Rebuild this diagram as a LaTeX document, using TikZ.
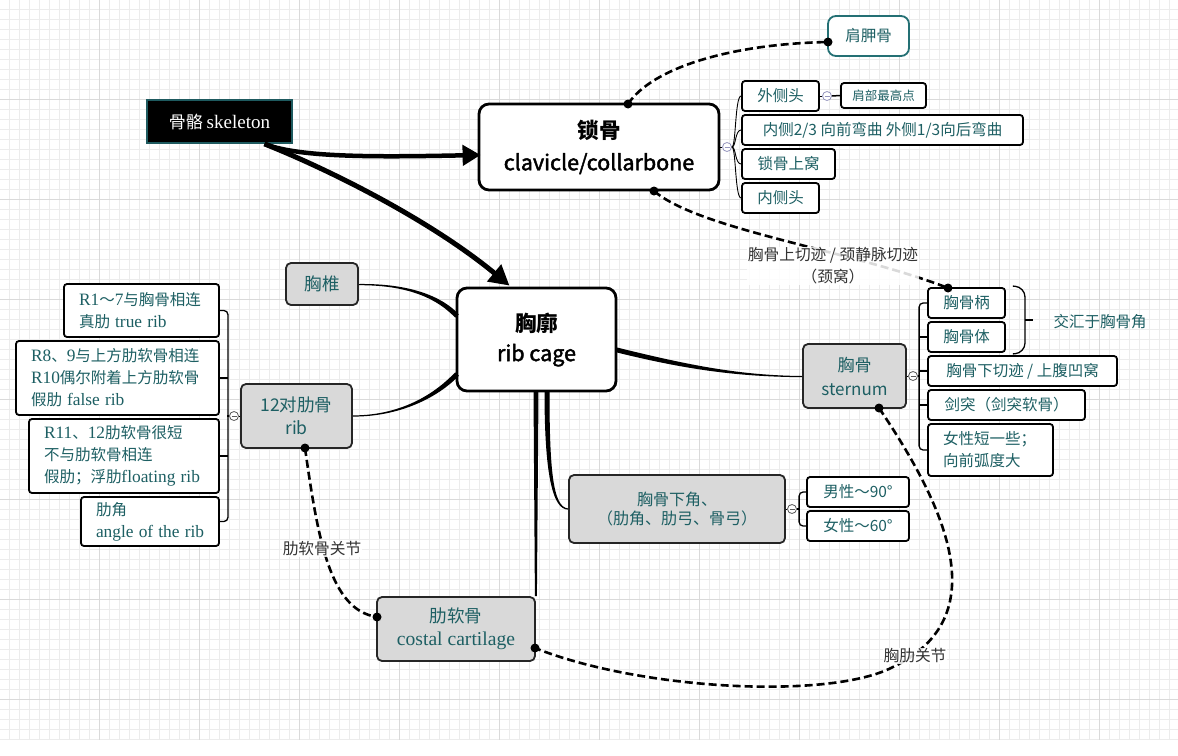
\documentclass[tikz,border=0pt]{standalone}
\usepackage{fontspec}
\setmainfont{Noto Sans CJK SC}
\newfontfamily\srf{Liberation Serif}[Scale=1.12]
\newfontfamily\medf{Noto Sans CJK SC}[FakeBold=2]
\usetikzlibrary{arrows.meta,calc}
\definecolor{teal1}{RGB}{29,95,99}
\definecolor{grayf}{RGB}{217,217,217}
\definecolor{gmin}{RGB}{236,236,236}
\definecolor{gmaj}{RGB}{218,218,218}
\definecolor{skb}{RGB}{30,90,95}
\definecolor{scapc}{RGB}{36,112,116}
\definecolor{togc}{RGB}{150,150,190}
\tikzset{
 mainbox/.style={draw=black, line width=2.8pt, rounded corners=10pt, fill=white, inner sep=0pt, align=center, font=\fontsize{21.5}{32}\selectfont},
 skelbox/.style={draw=skb, fill=black, line width=1.8pt, text=white, inner sep=0pt, font=\fontsize{17}{20}\selectfont},
 graybox/.style={draw=black!85, line width=1.8pt, rounded corners=5pt, fill=grayf, text=teal1, inner sep=0pt, align=center, font=\fontsize{17.5}{23}\selectfont},
 leaf/.style={draw=black, line width=1.8pt, rounded corners=3pt, fill=white, text=teal1, inner sep=0pt, font=\fontsize{15.5}{22}\selectfont},
 lleaf/.style={leaf, align=left, inner xsep=15pt},
 dotc/.style={circle, fill=black, inner sep=0pt, minimum size=9pt},
 dashc/.style={line width=2.6pt, dash pattern=on 8pt off 4pt},
 tog/.style={circle, draw=black!65, fill=white, line width=0.8pt, inner sep=0pt, minimum size=9pt},
 brk/.style={line width=1.3pt, rounded corners=4pt},
 thinl/.style={line width=0.9pt},
 lab/.style={fill=white, fill opacity=0.85, text opacity=1, font=\fontsize{15.7}{22}\selectfont, text=black!80, inner sep=1pt, align=center},
 bigarrow/.style={line width=4.5pt, -{Triangle[length=18pt,width=20pt]}},
}
\begin{document}
\begin{tikzpicture}[x=1pt,y=-1pt]
\useasboundingbox (0,0) rectangle (1178,755);
\fill[white] (0,0) rectangle (1178,755);
\foreach \i in {1,...,117} \draw[gmin,line width=0.8pt] (\i*10-0.5,0) -- (\i*10-0.5,740);
\foreach \j in {1,...,74} \draw[gmin,line width=0.8pt] (0,\j*10-0.5) -- (1178,\j*10-0.5);
\foreach \i in {1,...,11} \draw[gmaj,line width=0.8pt] (\i*100-0.5,0) -- (\i*100-0.5,740);
\foreach \j in {1,...,7} \draw[gmaj,line width=0.8pt] (0,\j*100-0.5) -- (1178,\j*100-0.5);

% ---------- nodes ----------
\node[skelbox, minimum width=145pt, minimum height=43pt] (skel) at (219.5,121.5) {骨骼 {\srf skeleton}};
\node[mainbox, minimum width=240pt, minimum height=86pt] (clav) at (599,147) {{\bfseries 锁骨}\\{\medf clavicle/collarbone}};
\node[draw=scapc, line width=1.8pt, rounded corners=8pt, fill=white, text=teal1, inner sep=0pt, font=\fontsize{15.5}{20}\selectfont, minimum width=81pt, minimum height=40pt] (scap) at (868.5,36) {肩胛骨};

\node[leaf, minimum width=77pt, minimum height=30pt] (wct) at (780.5,96) {外侧头};
\node[leaf, minimum width=281pt, minimum height=30pt] (nc) at (882.5,130) {内侧2/3 向前弯曲 外侧1/3向后弯曲};
\node[leaf, minimum width=93pt, minimum height=30pt] (sgsw) at (788.5,164) {锁骨上窝};
\node[leaf, minimum width=77pt, minimum height=30pt] (nct) at (780.5,198) {内侧头};
\node[leaf, font=\fontsize{12.5}{16}\selectfont, minimum width=85pt, minimum height=25pt] (jb) at (883.5,95.5) {肩部最高点};

\node[mainbox, minimum width=159pt, minimum height=103pt, font=\fontsize{21.5}{30}\selectfont] (rc) at (536.5,339.5) {{\bfseries 胸廓}\\{\medf rib cage}};

\node[graybox, minimum width=72pt, minimum height=42pt] (xz) at (322,284) {胸椎};
\node[graybox, minimum width=111pt, minimum height=64pt] (rib) at (296.5,416) {12对肋骨\\rib};

\node[lleaf, text width=125pt, minimum height=53pt] (r1) at (141.5,310.5) {{\srf R1}～{\srf 7}与胸骨相连\\真肋 {\srf true~rib}};
\node[lleaf, text width=173pt, minimum height=74pt] (r8) at (117.5,378) {{\srf R8}、{\srf 9}与上方肋软骨相连\\{\srf R10}偶尔附着上方肋软骨\\假肋 {\srf false~rib}};
\node[lleaf, text width=160pt, minimum height=74pt] (r11) at (124,456) {{\srf R11}、{\srf 12}肋软骨很短\\不与肋软骨相连\\假肋；浮肋{\srf floating~rib}};
\node[lleaf, text width=108pt, minimum height=49pt] (lj) at (150,521.5) {肋角\\{\srf angle~of~the~rib}};

\node[graybox, minimum width=103pt, minimum height=64pt, font=\fontsize{17}{24}\selectfont] (st) at (854.5,376) {胸骨\\sternum};
\node[leaf, minimum width=77pt, minimum height=30pt] (xgb) at (966.5,303) {胸骨柄};
\node[leaf, minimum width=77pt, minimum height=30pt] (xgt) at (966.5,337) {胸骨体};
\node[leaf, minimum width=189pt, minimum height=30pt] (xgx) at (1022.5,371) {胸骨下切迹 / 上腹凹窝};
\node[leaf, minimum width=157pt, minimum height=30pt] (jt) at (1006.5,405) {剑突（剑突软骨）};
\node[lleaf, text width=95pt, minimum height=52pt] (nx) at (990.5,450) {女性短一些；\\向前弧度大};
\node[text=teal1, font=\fontsize{15.5}{20}\selectfont, inner sep=0pt] (jh) at (1100,322) {交汇于胸骨角};

\node[graybox, minimum width=216pt, minimum height=68pt, font=\fontsize{16}{19}\selectfont] (xj) at (677,509) {胸骨下角、\\（肋角、肋弓、骨弓）};
\node[leaf, minimum width=102pt, minimum height=30pt] (male) at (858,492) {男性～90°};
\node[leaf, minimum width=102pt, minimum height=30pt] (female) at (858,526) {女性～60°};

\node[graybox, minimum width=158pt, minimum height=64pt] (lrg) at (456,629) {肋软骨\\{\srf costal cartilage}};

% ---------- skeleton arrows ----------
\coordinate (s1) at ($(skel.south)+(45,0)$);
\draw[bigarrow] (s1) .. controls (300,158) and (380,157) .. ($(clav.west)+(3,8)$);
\draw[line width=5pt, -{Triangle[length=20pt,width=21pt]}] (s1) .. controls (330,170) and (430,220) .. ($(rc.north)+(-27,-1)$);

% ---------- tapered branches from rib cage ----------
\fill (617,347.5) .. controls (690,365.5) and (740,375.4) .. (st.west) -- ($(st.west)+(0,1.2)$) .. controls (740,376.6) and (690,370.5) .. (617,352.5) -- cycle;
\fill (xz.east) .. controls (410,283.4) and (441.8,296.3) .. (458.8,314.3) -- (455.2,317.7) .. controls (438.2,299.7) and (410,285) .. ($(xz.east)+(0,1.2)$) -- cycle;
\fill ($(rib.east)+(0,0.6)$) .. controls (405,416.6) and (441.8,393.7) .. (458.8,375.7) -- (455.2,372.3) .. controls (438.2,390.3) and (405,415.4) .. ($(rib.east)+(0,-0.6)$) -- cycle;
\fill (544.5,391) .. controls (544.5,472) and (552,509.6) .. ($(xj.west)+(0,0.6)$) -- ($(xj.west)+(0,-0.6)$) .. controls (553,507.4) and (549.5,470) .. (549.5,391) -- cycle;
\fill (533.5,391) -- ($(lrg.north east)+(-1,0)$) -- ($(lrg.north east)+(1,0)$) -- (538.5,391) -- cycle;

% ---------- clavicle children ----------
\node[tog, draw=togc] (t1) at (727,147) {};
\draw[togc, line width=0.7pt] ($(t1)+(-2.5,0)$) -- ($(t1)+(2.5,0)$);
\draw[thinl] (clav.east) -- (t1.west);
\foreach \c in {wct,nc,sgsw,nct}
  \draw[thinl] (t1.east) .. controls (736,147) and (735,0 |- \c.west) .. (\c.west);
\node[tog, draw=togc] (t2) at (827,96) {};
\draw[togc, line width=0.7pt] ($(t2)+(-2.5,0)$) -- ($(t2)+(2.5,0)$);
\draw[thinl] (wct.east) -- (t2.west);
\draw[line width=1.5pt] (t2.east) -- (jb.west);

% ---------- rib children ----------
\node[tog] (t3) at (234,416) {};
\draw[black!65, line width=0.7pt] ($(t3)+(-2.5,0)$) -- ($(t3)+(2.5,0)$);
\draw[brk] (r1.east) -- ++(8,0) |- (lj.east);
\draw[brk] (r8.east) -- ++(8,0);
\draw[brk] (r11.east) -- ++(8,0);
\draw[brk] (t3.west) -- (227,416);
\draw[thinl] (t3.east) -- (rib.west);

% ---------- sternum children ----------
\node[tog] (t4) at (913,376) {};
\draw[black!65, line width=0.7pt] ($(t4)+(-2.5,0)$) -- ($(t4)+(2.5,0)$);
\draw[thinl] (st.east) -- (t4.west);
\draw[brk] (xgb.west) -- ++(-8,0) |- (nx.west);
\draw[brk] (xgt.west) -- ++(-8,0);
\draw[brk] (xgx.west) -- ++(-8,0);
\draw[brk] (jt.west) -- ++(-8,0);
\draw[brk] (t4.east) -- (920,376);
\draw[line width=1.3pt, rounded corners=10pt] ($(xgb.north east)+(7,-1)$) -- (1025,287) -- (1025,353) -- ($(xgt.south east)+(7,1)$);
\draw[line width=1.3pt] (1025,320) -- ($(jh.west)+(-20,-2)$);

% ---------- subcostal angle children ----------
\node[tog] (t5) at (792,509) {};
\draw[black!65, line width=0.7pt] ($(t5)+(-2.5,0)$) -- ($(t5)+(2.5,0)$);
\draw[thinl] (xj.east) -- (t5.west);
\draw[brk] (male.west) -- ++(-7,0) |- (female.west);
\draw[brk] (t5.east) -- (800,509);

% ---------- dashed joints ----------
\node[dotc] (d1) at (628,104) {};
\node[dotc] (d2) at (828,42) {};
\draw[dashc] (d1.center) .. controls (652,68) and (730,44) .. (d2.center);

\node[dotc] (d3) at (654,191) {};
\node[dotc] (d4) at (948,288) {};
\draw[dashc] (d3.center) .. controls (700,230) and (850,250) .. (d4.center);
\node[lab] (l1) at (833,266) {胸骨上切迹 / 颈静脉切迹\\（颈窝）};

\node[dotc] (d5) at (305,448) {};
\node[dotc] (d6) at (377,617) {};
\draw[dashc] (d5.center) .. controls (318,540) and (330,610) .. (d6.center);
\node[lab] (l2) at (322,549) {肋软骨关节};

\node[dotc] (d7) at (879,408) {};
\node[dotc] (d8) at (535,648) {};
\coordinate (m1) at (893,667);
\draw[dashc] (d7.center) .. controls (955,520) and (990,620) .. (m1) .. controls (830,700) and (640,690) .. (d8.center);
\node[lab] (l3) at (915,656) {胸肋关节};
\end{tikzpicture}
\end{document}
